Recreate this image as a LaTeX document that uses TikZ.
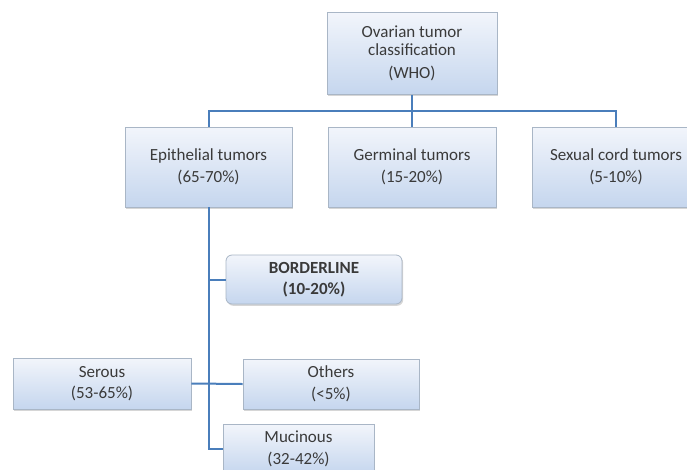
\documentclass[tikz,border=0pt]{standalone}
\usepackage{fontspec}
\setmainfont{Carlito}
\usepackage{tikz}
\usetikzlibrary{shadows}

\definecolor{linkblue}{HTML}{4A7EBB}
\definecolor{boxtop}{HTML}{F2F5FB}
\definecolor{boxbot}{HTML}{C5D6EE}
\definecolor{boxline}{HTML}{A9B6C6}
\definecolor{txtgray}{HTML}{3A3A3A}

\tikzset{
	tumorbox/.style={draw=boxline, line width=.8pt, top color=boxtop, bottom color=boxbot,
		text=txtgray, align=center, inner sep=0pt,
		font=\fontsize{17}{21.5}\selectfont,
		drop shadow={shadow xshift=1.2pt, shadow yshift=-1.8pt, opacity=.35, fill=black!45}},
	link/.style={draw=linkblue, line width=2pt}
}

\begin{document}
\begin{tikzpicture}[x=1pt,y=-1pt]

	\clip (0,0) rectangle (687,469);
	\fill[white] (0,0) rectangle (687,469);

	% classification levels
	\node[tumorbox, minimum width=170pt, minimum height=82pt] (who) at (412,53.5)
		{Ovarian tumor\\[-4pt]classification\\[2pt](WHO)};
	\node[tumorbox, minimum width=167pt, minimum height=80pt] (epi) at (208.5,167)
		{Epithelial tumors\\(65-70\%)};
	\node[tumorbox, minimum width=168pt, minimum height=80pt] (germ) at (412,167)
		{Germinal tumors\\(15-20\%)};
	\node[tumorbox, minimum width=168pt, minimum height=80pt] (sex) at (616,167)
		{Sexual cord tumors\\(5-10\%)};

	\node[tumorbox, rounded corners=6pt, minimum width=176pt, minimum height=49pt,
		font=\fontsize{17}{21.5}\selectfont\bfseries] (border) at (314,279.5)
		{BORDERLINE\\(10-20\%)};

	\node[tumorbox, minimum width=178pt, minimum height=51pt] (serous) at (102,383.5)
		{Serous\\(53-65\%)};
	\node[tumorbox, minimum width=176pt, minimum height=50pt] (others) at (331,384)
		{Others\\(<5\%)};
	\node[tumorbox, minimum width=151pt, minimum height=50pt] (mucin) at (298.5,449)
		{Mucinous\\(32-42\%)};

	% connectors
	\draw[link] (who) -- (germ);
	\draw[link] (epi.north) -- ++(0,-16) -| (sex.north);
	\draw[link] (epi.south) |- (mucin.west);
	\draw[link] (epi.south |- border.west) -- (border.west);
	\draw[link] (serous.east) -- (others.west);

\end{tikzpicture}
\end{document}
